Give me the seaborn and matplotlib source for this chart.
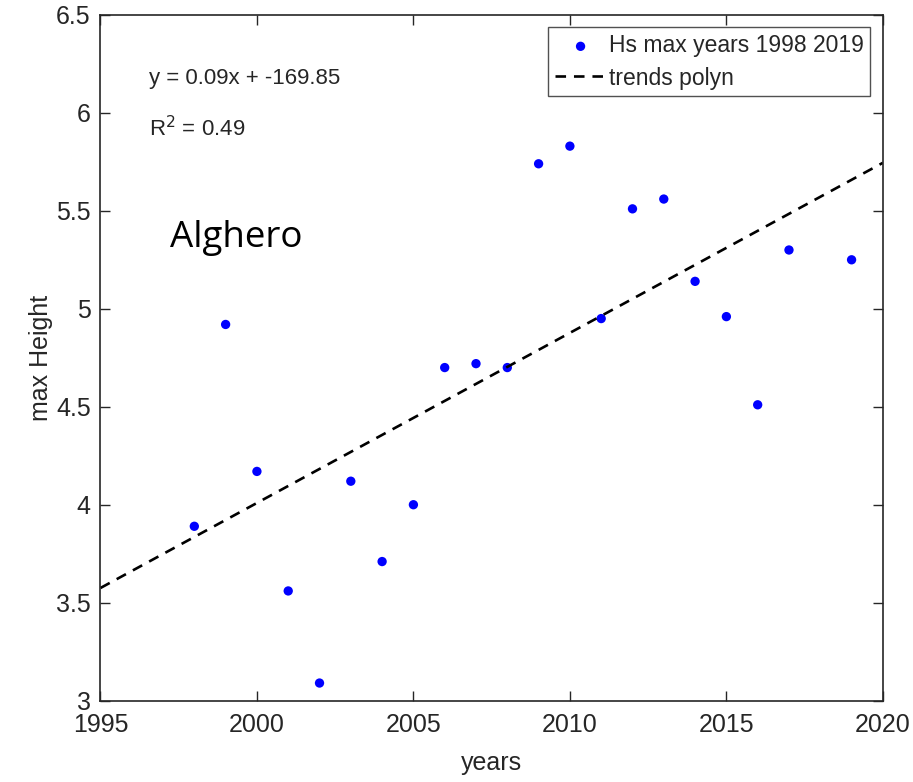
import numpy as np
import pandas as pd
import matplotlib
matplotlib.use("Agg")
import matplotlib.pyplot as plt
import seaborn as sns

# max significant wave height per year, Alghero
years = [1998, 1999, 2000, 2001, 2002, 2003, 2004, 2005, 2006, 2007, 2008,
         2009, 2010, 2011, 2012, 2013, 2014, 2015, 2016, 2017, 2019]
hs_max = [3.89, 4.92, 4.17, 3.56, 3.09, 4.12, 3.71, 4.00, 4.70, 4.72, 4.70,
          5.74, 5.83, 4.95, 5.51, 5.56, 5.14, 4.96, 4.51, 5.30, 5.25]
# trend line (ends at the axis limits)
trend_x = [1995, 2020]
trend_y = [3.575, 5.745]
x_ticks = [1995, 2000, 2005, 2010, 2015, 2020]
y_ticks = [3, 3.5, 4, 4.5, 5, 5.5, 6, 6.5]

df = pd.DataFrame({"years": years, "hs": hs_max})
trend = pd.DataFrame({"years": trend_x, "hs": trend_y})

sns.set_style("ticks")
plt.rcParams["font.family"] = ["Liberation Sans", "DejaVu Sans"]
axis_col = "#262626"

fig, ax = plt.subplots(figsize=(9.13, 7.82), dpi=100)
fig.subplots_adjust(left=0.11, right=0.967, top=0.981, bottom=0.104)

sns.scatterplot(data=df, x="years", y="hs", ax=ax, color="#0000ff", s=45,
                edgecolor="none", label="Hs max years 1998 2019")
sns.lineplot(data=trend, x="years", y="hs", ax=ax, color="black",
             linewidth=1.9, label="trends polyn")
ax.lines[-1].set_linestyle((0, (4, 3)))

ax.set_xlim(1995, 2020)
ax.set_ylim(3, 6.5)
ax.set_xticks(x_ticks)
ax.set_yticks(y_ticks)
ax.set_yticklabels([f"{v:g}" for v in y_ticks])
ax.tick_params(direction="in", length=7, width=1, colors=axis_col,
               labelsize=18, top=True, right=True, labelcolor="#262626")
ax.tick_params(axis="x", pad=9)
ax.tick_params(axis="y", pad=7)
for s in ax.spines.values():
    s.set_visible(True)
    s.set_color(axis_col)
    s.set_linewidth(1.2)

ax.set_xlabel("years", fontsize=18, color="#262626", labelpad=10)
ax.set_ylabel("max Height", fontsize=18, color="#262626", labelpad=2)

ax.text(0.062, 0.907, "y = 0.09x + -169.85", transform=ax.transAxes,
        fontsize=16, color="#262626", va="center")
ax.text(0.062, 0.834, "R$^2$ = 0.49", transform=ax.transAxes,
        fontsize=16, color="#262626", va="center")
ax.text(0.089, 0.674, "Alghero", transform=ax.transAxes,
        fontsize=26.5, color="black", va="center", family=["Open Sans", "DejaVu Sans"])

leg = ax.legend(loc="upper right", fontsize=16.5, frameon=True, fancybox=False,
                borderpad=0.3, labelspacing=0.4, handlelength=2.2,
                handletextpad=0.12, borderaxespad=0.55)
leg.get_frame().set_edgecolor(axis_col)
leg.get_frame().set_linewidth(1.0)

fig.savefig("out.png", dpi=100)
